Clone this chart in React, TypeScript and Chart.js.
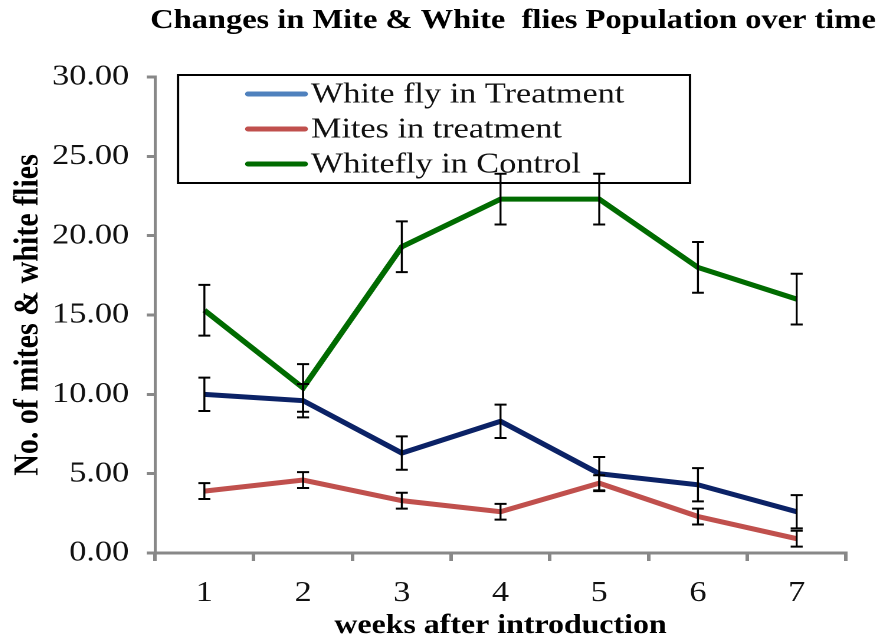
import React, { useEffect, useRef } from "react";
import { Chart, registerables } from "chart.js";

Chart.register(...registerables);

const weeks = ["1", "2", "3", "4", "5", "6", "7"];
const whiteflyTreatment = [10.0, 9.6, 6.3, 8.3, 5.0, 4.3, 2.6];
const whiteflyTreatmentErr = [1.05, 1.05, 1.05, 1.05, 1.05, 1.05, 1.05];
const mitesTreatment = [3.9, 4.6, 3.3, 2.6, 4.4, 2.3, 0.9];
const mitesTreatmentErr = [0.5, 0.5, 0.5, 0.5, 0.5, 0.5, 0.5];
const whiteflyControl = [15.3, 10.4, 19.3, 22.3, 22.3, 18.0, 16.0];
const whiteflyControlErr = [1.6, 1.5, 1.6, 1.6, 1.6, 1.6, 1.6];
const seriesNames = ["White fly in Treatment", "Mites in treatment", "Whitefly in Control"];
const yTicks = [0, 5, 10, 15, 20, 25, 30];
const chartTitle = "Changes in Mite & White  flies Population over time";

const SERIF = '"Liberation Serif", "Times New Roman", serif';
// the reference picture is stretched horizontally; the chart is laid out narrower and widened by this factor
const STRETCH = 1.18;
const PAGE_W = 872;
const PAGE_H = 636;
const LOGICAL_W = PAGE_W / STRETCH;

const titlePlugin = {
  id: "stretchedTitle",
  afterDraw(chart: any) {
    const { ctx } = chart;
    ctx.save();
    ctx.font = `bold 27.5px ${SERIF}`;
    ctx.fillStyle = "#000";
    ctx.textAlign = "center";
    ctx.textBaseline = "middle";
    ctx.fillText(chartTitle, 505 / STRETCH, 13);
    ctx.restore();
  },
};

const errorBarPlugin = {
  id: "errorBars",
  afterDatasetsDraw(chart: any) {
    const { ctx } = chart;
    const yScale = chart.scales.y;
    chart.data.datasets.forEach((ds: any, di: number) => {
      const meta = chart.getDatasetMeta(di);
      const errs: number[] = ds.errors || [];
      meta.data.forEach((pt: any, i: number) => {
        const v = ds.data[i];
        const e = errs[i];
        if (e == null) return;
        const x = pt.x;
        const yt = yScale.getPixelForValue(v + e);
        const yb = yScale.getPixelForValue(v - e);
        const cap = 6 / STRETCH;
        ctx.save();
        ctx.strokeStyle = "#000";
        ctx.lineWidth = 2;
        ctx.beginPath();
        ctx.moveTo(x - cap, yt);
        ctx.lineTo(x + cap, yt);
        ctx.moveTo(x - cap, yb);
        ctx.lineTo(x + cap, yb);
        ctx.stroke();
        ctx.lineWidth = 2 / STRETCH;
        ctx.beginPath();
        ctx.moveTo(x, yt);
        ctx.lineTo(x, yb);
        ctx.stroke();
        ctx.restore();
      });
    });
  },
};

const legendBoxPlugin = {
  id: "legendBox",
  beforeDatasetsDraw(chart: any) {
    const { ctx, chartArea } = chart;
    const x0 = chartArea.left + 23 / STRETCH;
    const y0 = chartArea.top - 2;
    const w = 512 / STRETCH;
    const h = 108;
    ctx.save();
    ctx.fillStyle = "#fff";
    ctx.fillRect(x0, y0, w, h);
    ctx.strokeStyle = "#000";
    ctx.lineWidth = 2;
    ctx.strokeRect(x0, y0, w, h);
    ctx.font = `29px ${SERIF}`;
    ctx.textBaseline = "middle";
    ctx.textAlign = "left";
    chart.data.datasets.forEach((ds: any, i: number) => {
      const cy = y0 + 19 + i * 35;
      ctx.strokeStyle = ds.legendColor || ds.borderColor;
      ctx.lineWidth = 5;
      ctx.lineCap = "round";
      ctx.beginPath();
      ctx.moveTo(x0 + 70 / STRETCH, cy);
      ctx.lineTo(x0 + 127 / STRETCH, cy);
      ctx.stroke();
      ctx.fillStyle = "#111";
      ctx.fillText(ds.label, x0 + 133 / STRETCH, cy + 1);
    });
    ctx.restore();
  },
};

export default function App() {
  const ref = useRef<HTMLCanvasElement>(null);
  useEffect(() => {
    if (!ref.current) return;
    const chart = new Chart(ref.current, {
      type: "line",
      data: {
        labels: weeks,
        datasets: [
          {
            label: seriesNames[0],
            data: whiteflyTreatment,
            errors: whiteflyTreatmentErr,
            borderColor: "#0B2266",
            legendColor: "#4F81BD",
            borderWidth: 5,
            pointRadius: 0,
            tension: 0,
          } as any,
          {
            label: seriesNames[1],
            data: mitesTreatment,
            errors: mitesTreatmentErr,
            borderColor: "#C0504D",
            legendColor: "#C0504D",
            borderWidth: 5,
            pointRadius: 0,
            tension: 0,
          } as any,
          {
            label: seriesNames[2],
            data: whiteflyControl,
            errors: whiteflyControlErr,
            borderColor: "#006B00",
            legendColor: "#006B00",
            borderWidth: 5,
            pointRadius: 0,
            tension: 0,
          } as any,
        ],
      },
      options: {
        animation: false,
        responsive: true,
        maintainAspectRatio: false,
        devicePixelRatio: 2,
        layout: { padding: { top: 69, right: 34 / STRETCH, left: 0, bottom: 0 } },
        plugins: {
          legend: { display: false },
          tooltip: { enabled: false },
          title: { display: false },
        },
        scales: {
          x: {
            offset: true,
            grid: {
              offset: true,
              drawOnChartArea: false,
              drawTicks: true,
              tickLength: 8,
              color: "#888",
              lineWidth: 3,
            },
            border: { display: true, color: "#888", width: 3 },
            ticks: {
              color: "#111",
              font: { family: SERIF, size: 29 },
              padding: 15,
            },
            title: {
              display: true,
              text: "weeks after introduction",
              color: "#000",
              font: { family: SERIF, size: 27, weight: "bold" },
              padding: { top: 0, bottom: 2 },
            },
            afterFit(scale: any) {
              scale.height = 91;
            },
          },
          y: {
            min: 0,
            max: 30,
            afterBuildTicks(scale: any) {
              scale.ticks = yTicks.map((v) => ({ value: v }));
            },
            grid: {
              drawOnChartArea: false,
              drawTicks: true,
              tickLength: 7,
              color: "#888",
              lineWidth: 3,
            },
            border: { display: true, color: "#888", width: 3 / STRETCH },
            ticks: {
              color: "#111",
              font: { family: SERIF, size: 29 },
              padding: 15,
              callback: (v: any) => Number(v).toFixed(2),
            },
            title: {
              display: true,
              text: "No. of mites & white flies",
              color: "#000",
              font: { family: SERIF, size: 30, weight: "bold" },
              padding: { top: -1, bottom: 0 },
            },
            afterFit(scale: any) {
              scale.width = 147 / STRETCH;
            },
          },
        },
      },
      plugins: [legendBoxPlugin, errorBarPlugin, titlePlugin],
    } as any);
    return () => chart.destroy();
  }, []);
  return (
    <div
      style={{
        width: PAGE_W,
        height: PAGE_H,
        marginBottom: -8,
        position: "relative",
        overflow: "hidden",
      }}
    >
      <div
        style={{
          width: LOGICAL_W,
          height: PAGE_H,
          position: "relative",
          transform: `scaleX(${STRETCH})`,
          transformOrigin: "0 0",
        }}
      >
        <canvas ref={ref} />
      </div>
    </div>
  );
}
